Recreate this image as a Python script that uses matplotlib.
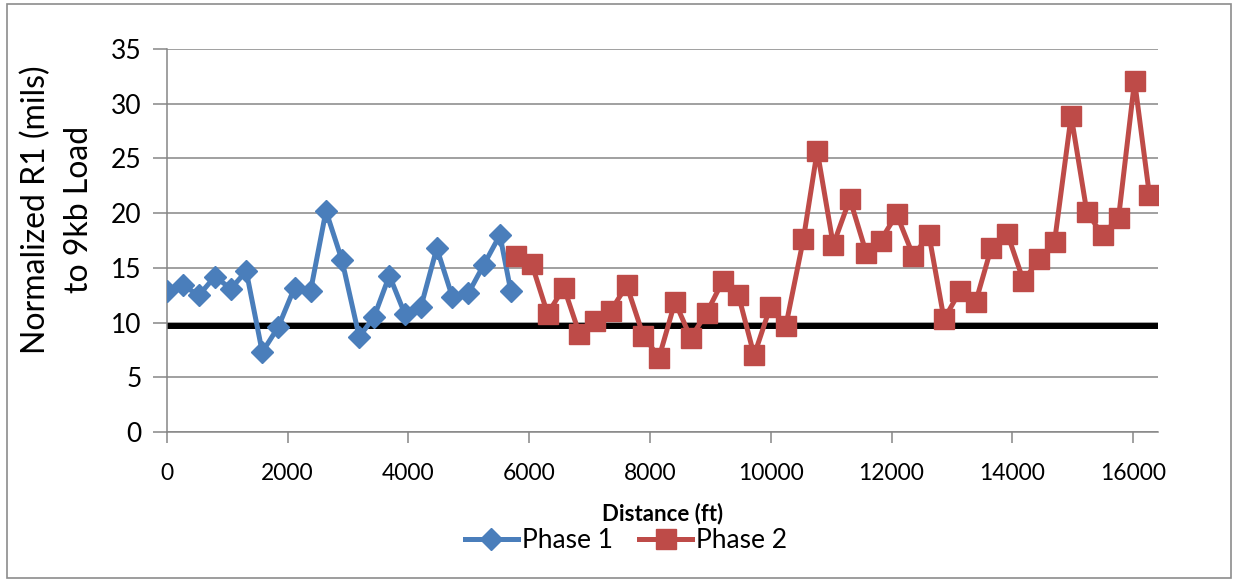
import matplotlib.pyplot as plt
import matplotlib.patches as patches

# Phase 1 (blue diamonds)
p1_dist = [0, 265, 530, 795, 1060, 1315, 1580, 1845, 2115, 2380, 2635, 2900,
           3185, 3430, 3685, 3940, 4205, 4470, 4730, 4995, 5250, 5515, 5695]
p1_r1 = [12.9, 13.4, 12.5, 14.2, 13.1, 14.7, 7.3, 9.6, 13.2, 12.9, 20.2, 15.7,
         8.7, 10.5, 14.3, 10.8, 11.4, 16.8, 12.3, 12.7, 15.3, 18.0, 12.9]

# Phase 2 (red squares)
p2_dist = [5780, 6040, 6305, 6575, 6830, 7090, 7355, 7615, 7890, 8150, 8415,
           8675, 8940, 9205, 9465, 9725, 9990, 10250, 10540, 10770, 11035,
           11310, 11580, 11820, 12085, 12360, 12620, 12870, 13135, 13395,
           13650, 13920, 14185, 14445, 14700, 14975, 15235, 15495, 15760,
           16025, 16270]
p2_r1 = [16.1, 15.4, 10.8, 13.2, 9.0, 10.1, 11.1, 13.4, 8.8, 6.8, 11.9, 8.6,
         10.9, 13.8, 12.5, 7.0, 11.4, 9.7, 17.6, 25.7, 17.1, 21.3, 16.4, 17.5,
         19.9, 16.1, 18.0, 10.3, 12.9, 11.9, 16.8, 18.1, 13.8, 15.8, 17.4,
         28.9, 20.1, 18.0, 19.6, 32.1, 21.7]

threshold = 9.7

blue = "#4A7EBB"
red = "#BE4B48"
grid_c = "#868686"

plt.rcParams["font.family"] = ["Lato", "DejaVu Sans"]

fig = plt.figure(figsize=(12.36, 5.81), dpi=100)
ax = fig.add_axes([0.135, 0.2565, 0.802, 0.659])

ax.yaxis.grid(True, color=grid_c, linewidth=1.1)
ax.set_axisbelow(True)
ax.axhline(threshold, color="black", linewidth=4.3, zorder=2)

ax.plot(p1_dist, p1_r1, color=blue, linewidth=3.6, marker="D", markersize=11,
        label="Phase 1", zorder=3)
ax.plot(p2_dist, p2_r1, color=red, linewidth=3.6, marker="s", markersize=14,
        label="Phase 2", zorder=3)

ax.set_xlim(0, 16415)
ax.set_ylim(0, 35)
ax.set_xticks(range(0, 16001, 2000))
ax.set_yticks(range(0, 36, 5))

for s in ["top", "right"]:
    ax.spines[s].set_visible(False)
for s in ["left", "bottom"]:
    ax.spines[s].set_color(grid_c)
    ax.spines[s].set_linewidth(1.1)

ax.tick_params(axis="y", labelsize=19, length=10, width=1.1, color=grid_c, pad=8)
ax.tick_params(axis="x", labelsize=16.5, length=8, width=1.1, color=grid_c, pad=14)

ax.set_xlabel("Distance (ft)", fontsize=16, fontweight="bold", labelpad=14)
ax.set_ylabel("Normalized R1 (mils)\nto 9kb Load", fontsize=23,
              linespacing=1.55)
ax.yaxis.set_label_coords(-0.073, 0.58)

fig.legend(loc="center", bbox_to_anchor=(0.5065, 0.069), ncol=2, frameon=False,
           fontsize=19, handlelength=2.0, handletextpad=0.15, columnspacing=1.0)

fig.add_artist(patches.Rectangle((0.006, 0.005), 0.99, 0.988,
                                 transform=fig.transFigure, fill=False,
                                 edgecolor="#8c8c8c", linewidth=1.2))

fig.savefig("out.png", dpi=100)
